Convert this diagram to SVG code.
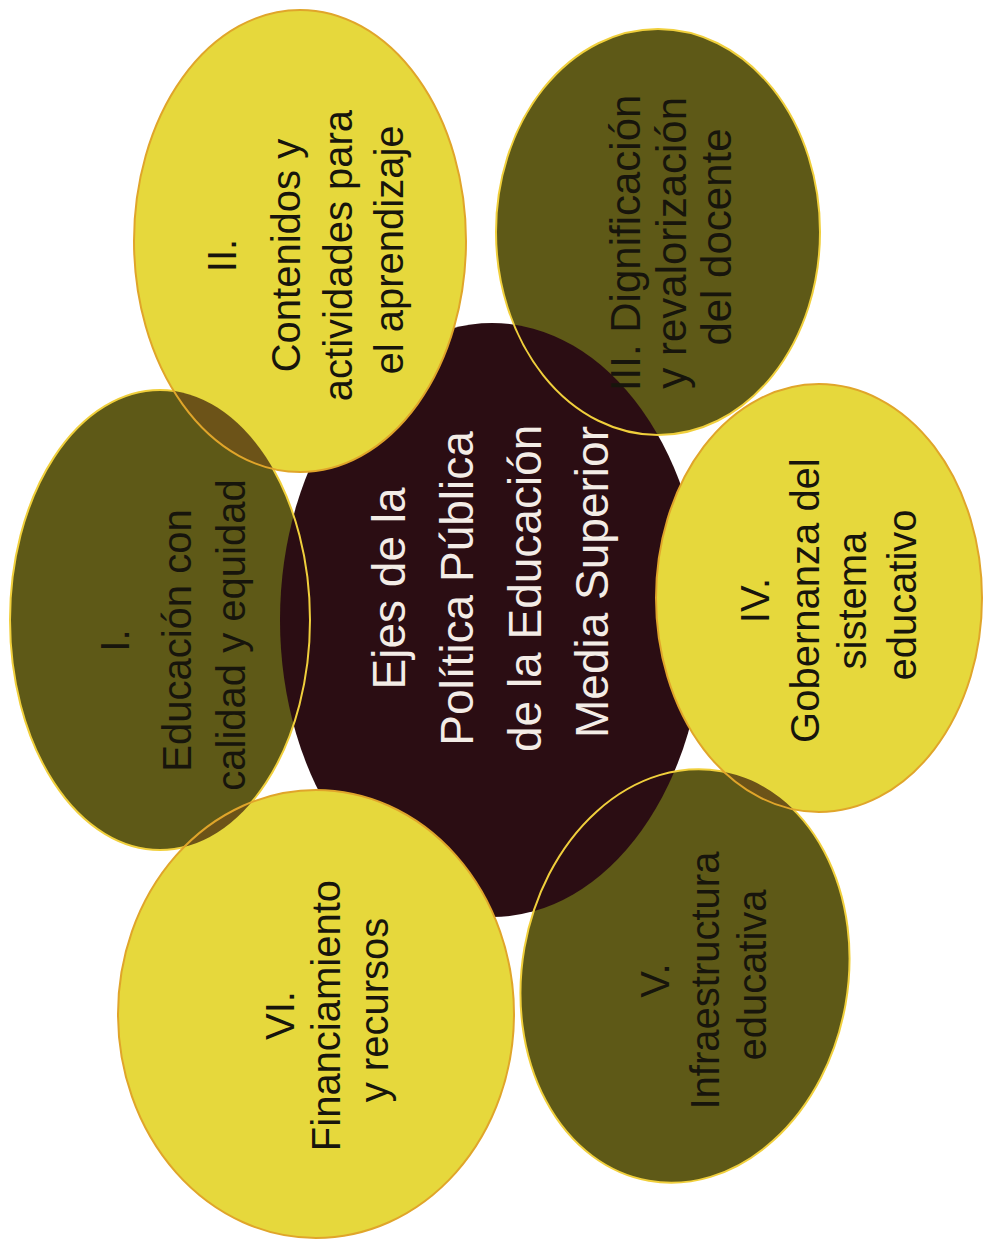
<svg xmlns="http://www.w3.org/2000/svg" xmlns:xlink="http://www.w3.org/1999/xlink" width="986" height="1243" viewBox="0 0 986 1243">
<style>
.olive{fill:#5e5917}
.yellow{fill:#e6d83c}
.darkfill{fill:#2b0d13}
.brown{fill:#6c5318}
.ostroke{fill:none;stroke:#f0cf3c;stroke-width:2}
.ystroke{fill:none;stroke:#e0a52a;stroke-width:2}
.lbl{font-family:"Liberation Sans",Arial,sans-serif;font-size:40px;fill:#17150c;text-anchor:middle}
.big{font-size:42px}
.ctr{font-family:"Liberation Sans",Arial,sans-serif;font-size:46px;fill:#f3ece6;text-anchor:middle}
</style>
<defs>
<ellipse id="eC" cx="492" cy="620" rx="212" ry="297"/>
<ellipse id="eI" cx="160" cy="620" rx="150" ry="230"/>
<ellipse id="eII" cx="300" cy="241" rx="166" ry="231"/>
<ellipse id="eIII" cx="658" cy="232" rx="162" ry="203"/>
<ellipse id="eIV" cx="819" cy="598" rx="163" ry="214"/>
<ellipse id="eV" cx="685" cy="976" rx="163" ry="208" transform="rotate(10 685 976)"/>
<ellipse id="eVI" cx="316" cy="1014" rx="198" ry="224"/>
<clipPath id="cI"><use xlink:href="#eI"/></clipPath>
<clipPath id="cIII"><use xlink:href="#eIII"/></clipPath>
<clipPath id="cV"><use xlink:href="#eV"/></clipPath>
</defs>
<rect width="986" height="1243" fill="#ffffff"/>

<g id="center">
<use xlink:href="#eC" class="darkfill"/>
<text class="ctr" transform="translate(0,582) rotate(-90)">
<tspan x="0" y="405">Ejes de la</tspan>
<tspan x="0" y="473">Política Pública</tspan>
<tspan x="0" y="541">de la Educación</tspan>
<tspan x="0" y="608">Media Superior</tspan>
</text>
</g>

<g id="node-I">
<use xlink:href="#eI" class="olive"/>
<use xlink:href="#eC" class="darkfill" clip-path="url(#cI)"/>
<use xlink:href="#eI" class="ostroke"/>
<text class="lbl" transform="translate(0,635) rotate(-90)">
<tspan x="0" y="129">I.</tspan>
<tspan x="0" y="191">Educación con</tspan>
<tspan x="0" y="245">calidad y equidad</tspan>
</text>
</g>

<g id="node-III">
<use xlink:href="#eIII" class="olive"/>
<use xlink:href="#eC" class="darkfill" clip-path="url(#cIII)"/>
<use xlink:href="#eIII" class="ostroke"/>
<text class="lbl big" transform="translate(0,237) rotate(-90)">
<tspan x="0" y="640">III. Dignificación</tspan>
<tspan x="0" y="686">y revalorización</tspan>
<tspan x="0" y="731">del docente</tspan>
</text>
</g>

<g id="node-V">
<use xlink:href="#eV" class="olive"/>
<use xlink:href="#eC" class="darkfill" clip-path="url(#cV)"/>
<use xlink:href="#eV" class="ostroke"/>
<text class="lbl" transform="translate(0,975) rotate(-90)">
<tspan x="0" y="669">V.</tspan>
<tspan x="0" y="719">Infraestructura</tspan>
<tspan x="0" y="766">educativa</tspan>
</text>
</g>

<g id="node-II">
<use xlink:href="#eII" class="yellow"/>
<use xlink:href="#eII" class="brown" clip-path="url(#cI)"/>
<use xlink:href="#eII" class="brown" clip-path="url(#cIII)"/>
<use xlink:href="#eII" class="ystroke"/>
<text class="lbl" transform="translate(0,250) rotate(-90)">
<tspan x="0" y="236">II.</tspan>
<tspan x="0" y="300">Contenidos y</tspan>
<tspan x="0" y="352">actividades para</tspan>
<tspan x="0" y="403">el aprendizaje</tspan>
</text>
</g>

<g id="node-IV">
<use xlink:href="#eIV" class="yellow"/>
<use xlink:href="#eIV" class="brown" clip-path="url(#cIII)"/>
<use xlink:href="#eIV" class="brown" clip-path="url(#cV)"/>
<use xlink:href="#eIV" class="ystroke"/>
<text class="lbl" transform="translate(0,595) rotate(-90)">
<tspan x="0" y="769">IV.</tspan>
<tspan x="0" y="819">Gobernanza del</tspan>
<tspan x="0" y="866">sistema</tspan>
<tspan x="0" y="916">educativo</tspan>
</text>
</g>

<g id="node-VI">
<use xlink:href="#eVI" class="yellow"/>
<use xlink:href="#eVI" class="brown" clip-path="url(#cI)"/>
<use xlink:href="#eVI" class="brown" clip-path="url(#cV)"/>
<use xlink:href="#eVI" class="ystroke"/>
<text class="lbl" transform="translate(0,1010) rotate(-90)">
<tspan x="0" y="294">VI.</tspan>
<tspan x="0" y="340">Financiamiento</tspan>
<tspan x="0" y="388">y recursos</tspan>
</text>
</g>
</svg>
